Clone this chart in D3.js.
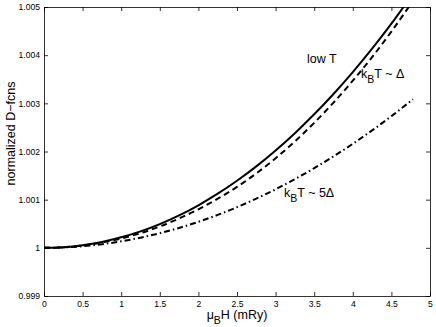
<!DOCTYPE html>
<html>
<head>
<meta charset="utf-8">
<script src="https://cdn.jsdelivr.net/npm/d3@7.9.0/dist/d3.min.js"></script>
<style>
  body { margin: 0; background: #fff; }
  svg { font-family: "Liberation Sans", Arial, sans-serif; }
</style>
</head>
<body>
<svg width="436" height="327"></svg>
<script>
// field values (mu_B H in mRy)
const fieldH = [0, 0.25, 0.5, 0.75, 1, 1.25, 1.5, 1.75, 2, 2.25, 2.5, 2.75, 3, 3.25, 3.5, 3.75, 4, 4.25, 4.5, 4.75];

// normalized D-fcns
const lowT = [1, 1.0000134, 1.000054, 1.000122, 1.000218, 1.000341, 1.000493, 1.000674, 1.000884, 1.001124,
  1.001393, 1.001691, 1.002021, 1.002381, 1.002772, 1.003194, 1.003648, 1.004134, 1.004653, 1.00521];
const kTdelta = [1, 1.0000115, 1.0000475, 1.000108, 1.000195, 1.000305, 1.000443, 1.00061, 1.0008, 1.00102,
  1.001265, 1.001545, 1.00186, 1.00221, 1.002595, 1.003015, 1.00347, 1.00396, 1.00449, 1.00506];
const dashdotH = [0, 0.25, 0.5, 0.75, 1, 1.25, 1.5, 1.75, 2, 2.25, 2.5, 2.75, 3, 3.25, 3.5, 3.75, 4, 4.25, 4.5, 4.78];
const kT5delta = [1, 1.0000084, 1.0000338, 1.0000759, 1.000135, 1.000211, 1.000304, 1.000413, 1.00054, 1.000683,
  1.000844, 1.001021, 1.001215, 1.001426, 1.001654, 1.001898, 1.00216, 1.002438, 1.002734, 1.003085];

const xTicks = [0, 0.5, 1, 1.5, 2, 2.5, 3, 3.5, 4, 4.5, 5];
const yTicks = [0.999, 1, 1.001, 1.002, 1.003, 1.004, 1.005];

const plotL = 44, plotR = 430, plotT = 7, plotB = 296;

const svg = d3.select("svg");
const x = d3.scaleLinear().domain([0, 5]).range([plotL, plotR]);
const y = d3.scaleLinear().domain([0.999, 1.005]).range([plotB, plotT]);

svg.append("clipPath").attr("id", "plot")
  .append("rect").attr("x", plotL).attr("y", plotT)
  .attr("width", plotR - plotL).attr("height", plotB - plotT);

const fmtY = d => d === 1 ? "1" : d3.format(".3f")(d);
const fmtX = d => d3.format("")(d);

function styleAxis(g) {
  g.selectAll(".domain").attr("stroke", "#000").attr("stroke-width", 0.8);
  g.selectAll(".tick line").attr("stroke", "#000").attr("stroke-width", 0.8);
  g.selectAll("text").attr("font-size", 8.6).attr("fill", "#000")
    .attr("font-family", "'Liberation Sans', Arial, sans-serif");
}

svg.append("g").attr("transform", `translate(0,${plotB})`)
  .call(d3.axisBottom(x).tickValues(xTicks).tickFormat(fmtX).tickSizeInner(-4).tickSizeOuter(0).tickPadding(5))
  .call(styleAxis);
svg.append("g").attr("transform", `translate(0,${plotT})`)
  .call(d3.axisTop(x).tickValues(xTicks).tickFormat("").tickSizeInner(-4).tickSizeOuter(0))
  .call(styleAxis);
svg.append("g").attr("transform", `translate(${plotL},0)`)
  .call(d3.axisLeft(y).tickValues(yTicks).tickFormat(fmtY).tickSizeInner(-4).tickSizeOuter(0).tickPadding(4))
  .call(styleAxis);
svg.append("g").attr("transform", `translate(${plotR},0)`)
  .call(d3.axisRight(y).tickValues(yTicks).tickFormat("").tickSizeInner(-4).tickSizeOuter(0))
  .call(styleAxis);

const line = d3.line().curve(d3.curveMonotoneX).x(d => x(d[0])).y(d => y(d[1]));

const series = [
  { xs: fieldH, ys: lowT, dash: null },
  { xs: fieldH, ys: kTdelta, dash: "6,4" },
  { xs: dashdotH, ys: kT5delta, dash: "6,3,1.5,3" }
];

const curves = svg.append("g").attr("clip-path", "url(#plot)");
series.forEach(s => {
  curves.append("path")
    .datum(s.xs.map((h, i) => [h, s.ys[i]]))
    .attr("d", line)
    .attr("fill", "none")
    .attr("stroke", "#000")
    .attr("stroke-width", 2)
    .attr("stroke-dasharray", s.dash);
});

// curve labels
svg.append("text").attr("x", 307).attr("y", 63).attr("font-size", 12.5).text("low T");

function kLabel(px, py, tail) {
  const t = svg.append("text").attr("x", px).attr("y", py).attr("font-size", 12.5);
  t.append("tspan").text("k");
  t.append("tspan").attr("dy", 5).attr("font-size", 10.5).text("B");
  t.append("tspan").attr("dy", -5).text("T ~ " + tail);
}
kLabel(361, 78, "\u0394");
kLabel(284, 197, "5\u0394");

// axis titles
const xl = svg.append("text").attr("x", 237).attr("y", 319)
  .attr("text-anchor", "middle").attr("font-size", 12.5);
xl.append("tspan").text("\u03bc");
xl.append("tspan").attr("dy", 5).attr("font-size", 10.5).text("B");
xl.append("tspan").attr("dy", -5).text("H (mRy)");

svg.append("text")
  .attr("transform", `translate(15,${(plotT + plotB) / 2 - 18}) rotate(-90)`)
  .attr("text-anchor", "middle").attr("font-size", 12.5)
  .text("normalized D\u2212fcns");
</script>
</body>
</html>
